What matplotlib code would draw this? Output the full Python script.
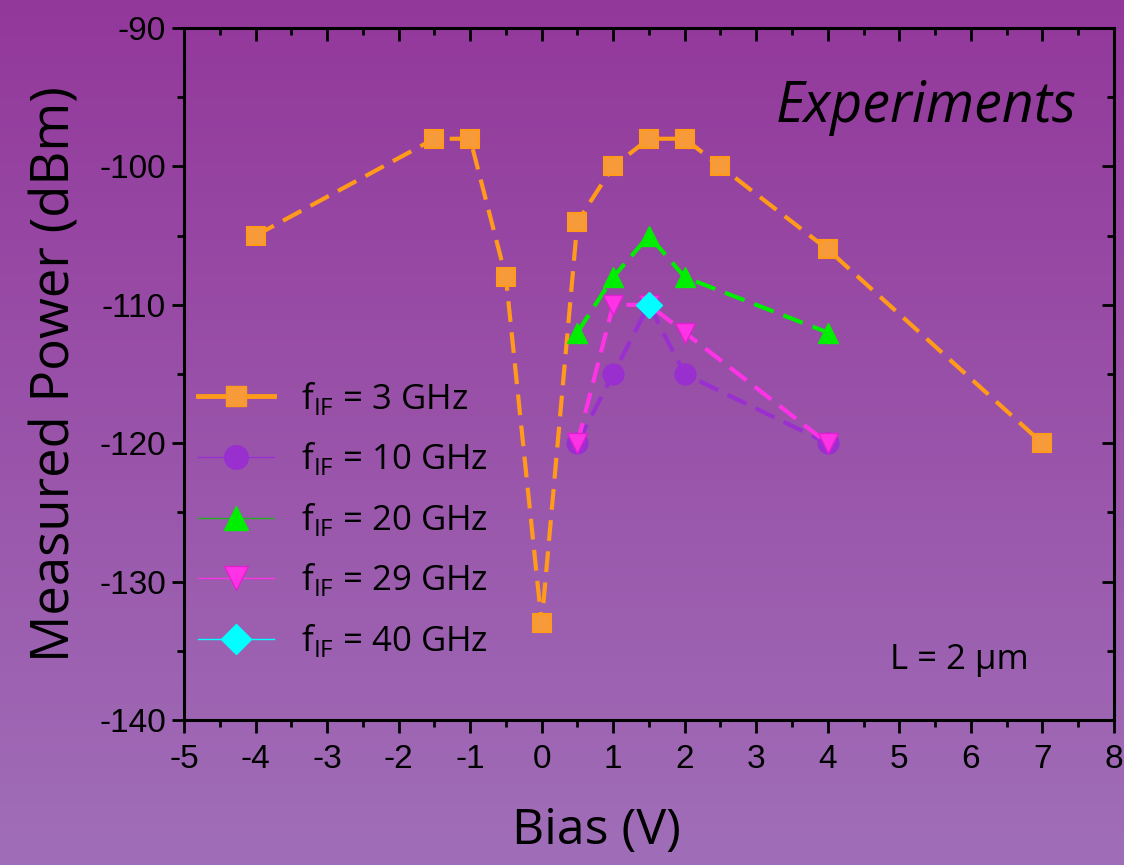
import numpy as np
import matplotlib
matplotlib.use("Agg")
import matplotlib.pyplot as plt
from matplotlib.lines import Line2D
from matplotlib.ticker import MultipleLocator

plt.rcParams["axes.unicode_minus"] = False

# measured IF power vs bias, L = 2 um
bias_3 = [-4, -1.5, -1, -0.5, 0, 0.5, 1, 1.5, 2, 2.5, 4, 7]
pwr_3 = [-105, -98, -98, -108, -133, -104, -100, -98, -98, -100, -106, -120]
bias_10 = [0.5, 1, 1.5, 2, 4]
pwr_10 = [-120, -115, -110, -115, -120]
bias_20 = [0.5, 1, 1.5, 2, 4]
pwr_20 = [-112, -108, -105, -108, -112]
bias_29 = [0.5, 1, 1.5, 2, 4]
pwr_29 = [-120, -110, -110, -112, -120]
bias_40 = [1.5]
pwr_40 = [-110]

labels = ["3", "10", "20", "29", "40"]

ORANGE = "#ff9a1a"
PURPLE = "#9a2fd0"
GREEN = "#00ee00"
MAGENTA = "#ff33e6"
CYAN = "#00ffff"

fig = plt.figure(figsize=(11.24, 8.65), dpi=100)

# purple vertical gradient behind everything
bg = fig.add_axes([0, 0, 1, 1], zorder=-1)
top = np.array([147, 56, 155]) / 255
bot = np.array([160, 110, 184]) / 255
t = np.linspace(0, 1, 256)[:, None]
grad = top[None, :] * (1 - t) + bot[None, :] * t
bg.imshow(grad[:, None, :], aspect="auto", extent=[0, 1, 0, 1])
bg.axis("off")

ax = fig.add_axes([0.1637, 0.1676, 0.8273, 0.80])
ax.set_facecolor("none")

dash = (5, 2.5)
ax.plot(bias_3, pwr_3, color=ORANGE, lw=3, dashes=dash, zorder=2)
ax.plot(bias_3, pwr_3, ls="none", marker="s", ms=13, mfc="#f79a3a",
        mec=ORANGE, mew=1.5, zorder=5)
ax.plot(bias_10, pwr_10, color=PURPLE, lw=3, dashes=dash, marker="o", ms=15,
        mfc=PURPLE, mec=PURPLE, zorder=3)
ax.plot(bias_20, pwr_20, color=GREEN, lw=3, dashes=dash, marker="^", ms=15,
        mfc=GREEN, mec=GREEN, zorder=3)
ax.plot(bias_29, pwr_29, color=MAGENTA, lw=3, dashes=dash, marker="v", ms=15,
        mfc=MAGENTA, mec="#e020d0", zorder=4)
ax.plot(bias_40, pwr_40, ls="none", marker="D", ms=13, mfc=CYAN, mec=CYAN, zorder=6)

ax.set_xlim(-5, 8)
ax.set_ylim(-140, -90)
ax.xaxis.set_major_locator(MultipleLocator(1))
ax.xaxis.set_minor_locator(MultipleLocator(0.5))
ax.yaxis.set_major_locator(MultipleLocator(10))
ax.yaxis.set_minor_locator(MultipleLocator(5))

for s in ax.spines.values():
    s.set_linewidth(2.2)
ax.tick_params(which="both", direction="out", top=False, right=False, width=2)
ax.tick_params(which="major", length=9)
ax.tick_params(which="minor", length=5)

# inward ticks on top and right frame
ax_t = ax.secondary_xaxis("top")
ax_t.xaxis.set_major_locator(MultipleLocator(1))
ax_t.xaxis.set_minor_locator(MultipleLocator(0.5))
ax_t.tick_params(which="both", direction="in", labeltop=False, width=2)
ax_t.tick_params(which="major", length=9)
ax_t.tick_params(which="minor", length=5)
ax_t.spines["top"].set_visible(False)
ax_r = ax.secondary_yaxis("right")
ax_r.yaxis.set_major_locator(MultipleLocator(10))
ax_r.yaxis.set_minor_locator(MultipleLocator(5))
ax_r.tick_params(which="both", direction="in", labelright=False, width=2)
ax_r.tick_params(which="major", length=9)
ax_r.tick_params(which="minor", length=5)
ax_r.spines["right"].set_visible(False)

tick_font = ["Liberation Sans Narrow", "Liberation Sans", "DejaVu Sans"]
for lab in ax.get_xticklabels() + ax.get_yticklabels():
    lab.set_family(tick_font)
    lab.set_fontsize(24)
ax.tick_params(axis="x", pad=8)
ax.tick_params(axis="y", pad=4)

ax.set_xlabel("Bias (V)", fontsize=36, family="Open Sans")
ax.xaxis.set_label_coords(0.443, -0.125)
ax.set_ylabel("Measured Power (dBm)", fontsize=38, family="Open Sans", labelpad=12)

ax.text(0.96, 0.885, "Experiments", transform=ax.transAxes, ha="right",
        va="center", fontsize=40, style="italic", family="Open Sans")
ax.text(0.834, 0.087, "L = 2 µm", transform=ax.transAxes, ha="center",
        va="center", fontsize=25, family="Open Sans")

handles = [
    Line2D([], [], color=ORANGE, lw=3.5, marker="s", ms=15, mfc="#f79a3a", mec=ORANGE),
    Line2D([], [], color=PURPLE, lw=1, marker="o", ms=17, mfc=PURPLE, mec=PURPLE),
    Line2D([], [], color="#22aa22", lw=1, marker="^", ms=17, mfc=GREEN, mec=GREEN),
    Line2D([], [], color=MAGENTA, lw=1, marker="v", ms=17, mfc=MAGENTA, mec="#e020d0"),
    Line2D([], [], color=CYAN, lw=1, marker="D", ms=15, mfc=CYAN, mec=CYAN),
]
texts = [r"f$_{\mathregular{IF}}$ = %s GHz" % f for f in labels]
leg = ax.legend(handles, texts, loc="upper left", bbox_to_anchor=(0.0, 0.512),
                frameon=False, handlelength=2.2, handletextpad=0.78,
                borderaxespad=0, borderpad=0.4, labelspacing=0.68,
                prop={"family": "Open Sans", "size": 25})

fig.savefig("out.png", dpi=100)
